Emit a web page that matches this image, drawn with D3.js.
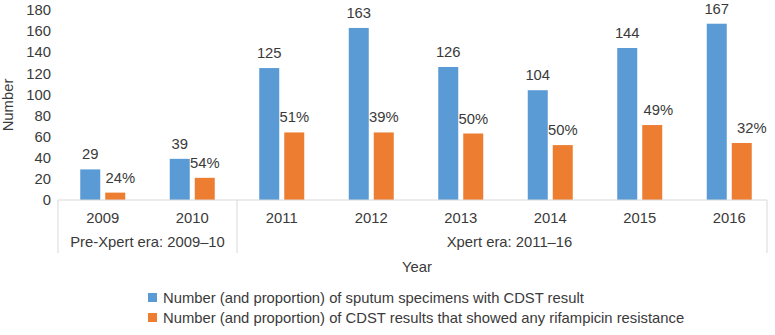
<!DOCTYPE html>
<html>
<head>
<meta charset="utf-8">
<script src="https://cdn.jsdelivr.net/npm/d3@7"></script>
<style>
  body { margin: 0; background: #fff; }
  text { font-family: "Liberation Sans", Arial, sans-serif; fill: #3a3a3a; }
</style>
</head>
<body>
<script>
var years      = ["2009", "2010", "2011", "2012", "2013", "2014", "2015", "2016"];
var specimens  = [29, 39, 125, 163, 126, 104, 144, 167];
var resistant  = [7, 21, 64, 64, 63, 52, 71, 54];
var pctLabels  = ["24%", "54%", "51%", "39%", "50%", "50%", "49%", "32%"];
var eraLabels  = ["Pre-Xpert era: 2009\u201310", "Xpert era: 2011\u201316"];
var eraFirst   = ["2009", "2011"];
var eraLast    = ["2010", "2016"];
var yTicks     = [0, 20, 40, 60, 80, 100, 120, 140, 160, 180];
var seriesKeys = ["spec", "res"];
var legendText = ["Number (and proportion) of sputum specimens with CDST result",
                  "Number (and proportion) of CDST results that showed any rifampicin resistance"];
var colors = { spec: "#5b9bd5", res: "#ed7d31" };

// small manual nudges of the % labels, as in the original
var pctNudge = [5, 0, 0, 0, 0, 0, 6, 10];

var width = 775, height = 335;
var fontSize = "14.8px";

var svg = d3.select("body").append("svg")
    .attr("width", width)
    .attr("height", height);

var x = d3.scaleBand().domain(years).range([58, 774]).padding(0);
var x1 = d3.scaleBand().domain(seriesKeys)
    .range([x.bandwidth() / 2 - 22.5, x.bandwidth() / 2 + 22.5])
    .paddingInner(0.2);
var y = d3.scaleLinear().domain([0, 180]).range([200, 10]);

// y axis labels (no axis line)
var yAxis = d3.axisLeft(y).tickValues(yTicks).tickSize(0).tickPadding(7);
var gy = svg.append("g").attr("transform", "translate(58,0)").call(yAxis);
gy.select(".domain").remove();
gy.selectAll("text").style("font-size", fontSize).style("font-family", null).attr("fill", "#3a3a3a");

// bars
var rows = years.map(function(yr, i) {
  return { year: yr, spec: specimens[i], res: resistant[i], pct: pctLabels[i], nudge: pctNudge[i] };
});

var grp = svg.selectAll("g.year").data(rows).enter().append("g")
    .attr("class", "year")
    .attr("transform", function(d) { return "translate(" + x(d.year) + ",0)"; });

grp.selectAll("rect").data(function(d) {
    return seriesKeys.map(function(k) { return { key: k, value: d[k] }; });
  }).enter().append("rect")
    .attr("x", function(d) { return x1(d.key); })
    .attr("y", function(d) { return y(d.value); })
    .attr("width", x1.bandwidth())
    .attr("height", function(d) { return y(0) - y(d.value); })
    .attr("fill", function(d) { return colors[d.key]; });

grp.append("text")
    .attr("x", x1("spec") + x1.bandwidth() / 2)
    .attr("y", function(d) { return y(d.spec) - 10; })
    .attr("text-anchor", "middle")
    .style("font-size", fontSize)
    .text(function(d) { return d.spec; });

grp.append("text")
    .attr("x", function(d) { return x1("res") + x1.bandwidth() / 2 + d.nudge; })
    .attr("y", function(d) { return y(d.res) - 10; })
    .attr("text-anchor", "middle")
    .style("font-size", fontSize)
    .text(function(d) { return d.pct; });

// category axis
var axisCol = "#d9d9d9";
svg.append("line")
    .attr("x1", 58).attr("x2", 767)
    .attr("y1", y(0)).attr("y2", y(0))
    .attr("stroke", axisCol).attr("stroke-width", 1);

var seps = [58, x("2011"), 767];
svg.selectAll("line.sep").data(seps).enter().append("line")
    .attr("class", "sep")
    .attr("x1", function(d) { return d; }).attr("x2", function(d) { return d; })
    .attr("y1", y(0)).attr("y2", 253)
    .attr("stroke", axisCol).attr("stroke-width", 1);

svg.selectAll("text.yr").data(years).enter().append("text")
    .attr("class", "yr")
    .attr("x", function(d) { return x(d) + x.bandwidth() / 2; })
    .attr("y", 223)
    .attr("text-anchor", "middle")
    .style("font-size", fontSize)
    .text(function(d) { return d; });

svg.selectAll("text.era").data(eraLabels).enter().append("text")
    .attr("class", "era")
    .attr("x", function(d, i) {
      return (x(eraFirst[i]) + x(eraLast[i]) + x.bandwidth()) / 2 + (i === 1 ? 4 : 0);
    })
    .attr("y", 247)
    .attr("text-anchor", "middle")
    .style("font-size", fontSize)
    .text(function(d) { return d; });

// axis titles
svg.append("text")
    .attr("x", 417).attr("y", 272)
    .attr("text-anchor", "middle")
    .style("font-size", fontSize)
    .text("Year");

svg.append("text")
    .attr("transform", "translate(13," + y(90) + ") rotate(-90)")
    .attr("text-anchor", "middle")
    .style("font-size", fontSize)
    .text("Number");

// legend
var leg = svg.selectAll("g.leg").data(seriesKeys).enter().append("g")
    .attr("class", "leg")
    .attr("transform", function(d, i) { return "translate(148," + (293 + i * 20) + ")"; });

leg.append("rect")
    .attr("width", 9).attr("height", 9)
    .attr("fill", function(d) { return colors[d]; });

leg.append("text")
    .attr("x", 15).attr("y", 10)
    .style("font-size", fontSize)
    .text(function(d, i) { return legendText[i]; });
</script>
</body>
</html>
